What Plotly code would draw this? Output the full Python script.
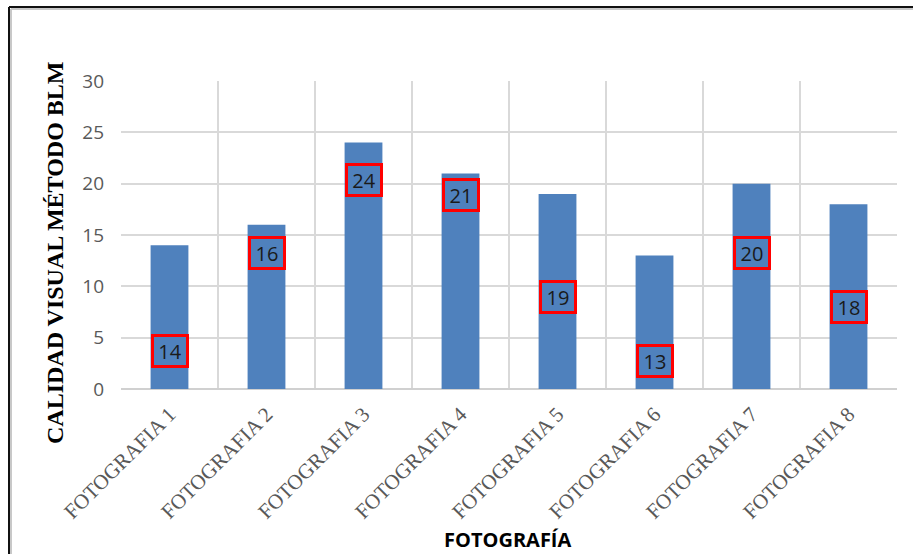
import plotly.graph_objects as go

# Chart data
categories = ["FOTOGRAFIA 1", "FOTOGRAFIA 2", "FOTOGRAFIA 3", "FOTOGRAFIA 4",
              "FOTOGRAFIA 5", "FOTOGRAFIA 6", "FOTOGRAFIA 7", "FOTOGRAFIA 8"]
values = [14, 16, 24, 21, 19, 13, 20, 18]
y_ticks = [0, 5, 10, 15, 20, 25, 30]

# Vertical placement of the boxed value labels (axis units)
label_y = [3.7, 13.25, 20.35, 18.85, 9.0, 2.75, 13.2, 8.0]

W, H = 913, 554
L, R, T, B = 121, 16, 81, 165
pw, ph = W - L - R, H - T - B


def px_x(px):
    return (px - L) / pw


def px_y(py):
    return (H - B - py) / ph


xs = list(range(len(categories)))

fig = go.Figure(
    go.Bar(
        x=xs,
        y=values,
        width=0.39,
        marker=dict(color="#4f81bd", line=dict(width=0)),
        hoverinfo="x+y",
    )
)

# Boxed value labels
for x, v, ly in zip(xs, values, label_y):
    fig.add_annotation(
        x=x, y=ly, xref="x", yref="y",
        text=str(v), showarrow=False,
        font=dict(family="Open Sans", size=20, color="#1a1a1a"),
        width=28, height=24, borderpad=2,
        bordercolor="#ff0000", borderwidth=3,
        xanchor="center", yanchor="middle",
    )

# Axis titles
fig.add_annotation(
    x=px_x(55), y=px_y(253), xref="paper", yref="paper",
    text="<b>CALIDAD VISUAL MÉTODO BLM</b>", textangle=-90, showarrow=False,
    font=dict(family="Liberation Serif", size=24, color="#000000"),
    xanchor="center", yanchor="middle",
)
fig.add_annotation(
    x=px_x(507), y=px_y(539), xref="paper", yref="paper",
    text="<b>FOTOGRAFÍA</b>", showarrow=False,
    font=dict(family="Open Sans", size=20, color="#000000"),
    xanchor="center", yanchor="middle",
)

# Frame lines with soft shadow (left and top)
frame = [
    dict(x0=px_x(11), x1=px_x(920), y0=px_y(9), y1=px_y(9), color="#c8c8c8"),
    dict(x0=px_x(11), x1=px_x(11), y0=px_y(9), y1=px_y(560), color="#c8c8c8"),
    dict(x0=px_x(9), x1=px_x(9), y0=px_y(7), y1=px_y(560), color="#111111"),
    dict(x0=px_x(9), x1=px_x(920), y0=px_y(7), y1=px_y(7), color="#111111"),
]
for f in frame:
    fig.add_shape(type="line", xref="paper", yref="paper",
                  x0=f["x0"], x1=f["x1"], y0=f["y0"], y1=f["y1"],
                  line=dict(color=f["color"], width=2), layer="above")

fig.update_layout(
    width=W, height=H,
    margin=dict(l=L, r=R, t=T, b=B),
    paper_bgcolor="white",
    plot_bgcolor="white",
    showlegend=False,
    xaxis=dict(
        range=[-0.5, len(categories) - 0.5],
        tickmode="array", tickvals=xs, ticktext=categories,
        tickangle=-45,
        tickfont=dict(family="Liberation Serif", size=21, color="#595959"),
        showgrid=False, zeroline=False,
        showline=False, ticks="", ticklabelstandoff=8,
        minor=dict(tick0=-0.5, dtick=1, showgrid=True,
                   gridcolor="#d9d9d9", gridwidth=1.5, ticks=""),
        fixedrange=True,
    ),
    yaxis=dict(
        range=[0, 30],
        tickmode="array", tickvals=y_ticks,
        tickfont=dict(family="Open Sans", size=19, color="#595959"),
        showgrid=True, gridcolor="#d9d9d9", gridwidth=1.5,
        zeroline=True, zerolinecolor="#d0d0d0", zerolinewidth=2,
        showline=False, ticks="", ticklabelstandoff=16,
        fixedrange=True,
    ),
)

fig.write_html("out.html")
